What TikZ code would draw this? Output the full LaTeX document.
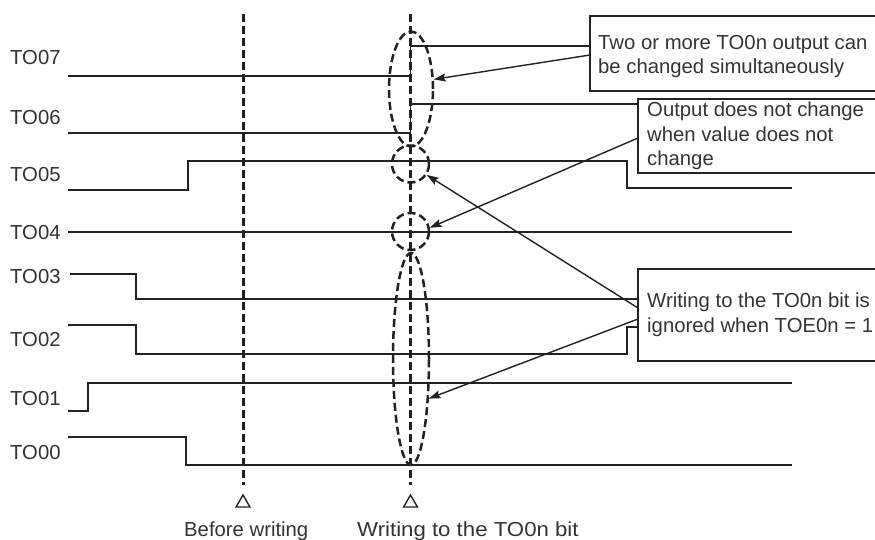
\documentclass[tikz,border=0pt]{standalone}
\usepackage{fontspec}
\setmainfont{Liberation Sans}
\usetikzlibrary{arrows.meta,shapes.geometric,calc}
\definecolor{ink}{HTML}{222222}
\definecolor{txtc}{HTML}{333333}
\begin{document}
\begin{tikzpicture}[x=1pt,y=-1pt,
  sig/.style={draw=ink,line width=1.6pt,line join=miter},
  lbl/.style={anchor=base west,inner sep=0pt,text=txtc,font=\fontsize{20.3}{24}\selectfont},
  callout/.style={draw=ink,line width=1.4pt,anchor=north west,inner sep=0pt,outer sep=0pt},
  vdash/.style={draw=ink,line width=3pt,dash pattern=on 8pt off 4pt},
  ring/.style={draw=ink,line width=2.5pt,dash pattern=on 8pt off 4pt,ellipse,inner sep=0pt,outer sep=1pt},
  ptr/.style={draw=ink,line width=1.4pt,-{Stealth[length=12pt,width=8pt,inset=2pt]}},
  tri/.style={draw=ink,line width=1.4pt,regular polygon,regular polygon sides=3,minimum size=16pt,inner sep=0pt}]
\useasboundingbox (0,0) rectangle (875,540);
\clip (0,0) rectangle (875,540);

% signal labels
\node[lbl] (l7) at (10,65)  {TO07};
\node[lbl] (l6) at (10,125) {TO06};
\node[lbl] (l5) at (10,182) {TO05};
\node[lbl] (l4) at (10,239) {TO04};
\node[lbl] (l3) at (10,283) {TO03};
\node[lbl] (l2) at (10,346) {TO02};
\node[lbl] (l1) at (10,405) {TO01};
\node[lbl] (l0) at (10,459) {TO00};

% callout boxes (their right sides lie beyond the picture's edge)
\node[callout,minimum width=400pt,minimum height=75pt] (b1) at (590,16) {};
\node[callout,minimum width=400pt,minimum height=74pt] (b2) at (638,99) {};
\node[callout,minimum width=400pt,minimum height=92pt] (b3) at (638,269) {};
\node[lbl] (b1t1) at (598,50) {Two or more TO0n output can};
\node[lbl] (b1t2) at (598,74) {be changed simultaneously};
\node[lbl] (b2t1) at (647,117) {Output does not change};
\node[lbl] (b2t2) at (647,142) {when value does not};
\node[lbl] (b2t3) at (647,166) {change};
\node[lbl] (b3t1) at (647,307) {Writing to the TO0n bit is};
\node[lbl] (b3t2) at (647,332) {ignored when TOE0n = 1};

% waveforms
\draw[sig] (68,76) -- (410.5,76) -- (410.5,46) -- (b1.west |- 0,46);
\draw[sig] (68,133) -- (410.5,133) -- (410.5,104) -- (b2.west |- 0,104);
\draw[sig] (68,190) -- (188,190) -- (188,161) -- (627,161) -- (627,188) -- (792,188);
\draw[sig] (68,232) -- (792,232);
\draw[sig] (70,274) -- (136,274) -- (136,299) -- (b3.west |- 0,299);
\draw[sig] (68,325) -- (136,325) -- (136,354) -- (627,354) -- (627,327) -- (b3.west |- 0,327);
\draw[sig] (68,411) -- (88,411) -- (88,383) -- (792,383);
\draw[sig] (68,437) -- (186,437) -- (186,465) -- (792,465);

% timing markers
\coordinate (v1t) at (243,14);
\coordinate (v1b) at (243,485);
\coordinate (v2t) at (410.5,14);
\coordinate (v2b) at (410.5,485);
\draw[vdash] (v1t) -- (v1b);
\draw[vdash] (v2t) -- (v2b);
\node[tri] (t1) at (243,503) {};
\node[tri] (t2) at (410.5,503) {};
\node[lbl] (lb1) at (184,536) {Before writing};
\node[lbl] (lb2) at (357,536) {\scalebox{1.094}[1]{Writing to the TO0n bit}};

% dashed rings
\node[ring,minimum width=44pt,minimum height=115pt] (e1) at (411,89) {};
\node[ring,minimum width=37pt,minimum height=37pt] (c5) at (410.5,164) {};
\node[ring,minimum width=37pt,minimum height=37pt] (c4) at (410.5,231.5) {};
\node[ring,minimum width=36pt,minimum height=212pt] (e2) at (411,359) {};

% pointers
\draw[ptr] ($(b1.west)+(0,1.5)$) -- (e1.23);
\draw[ptr] ($(b2.west)+(0,2)$) -- (c4.11);
\draw[ptr] ($(b3.west)+(0,-7)$) -- (c5.-34);
\draw[ptr] ($(b3.west)+(0,4)$) -- (e2.-66);
\end{tikzpicture}
\end{document}
